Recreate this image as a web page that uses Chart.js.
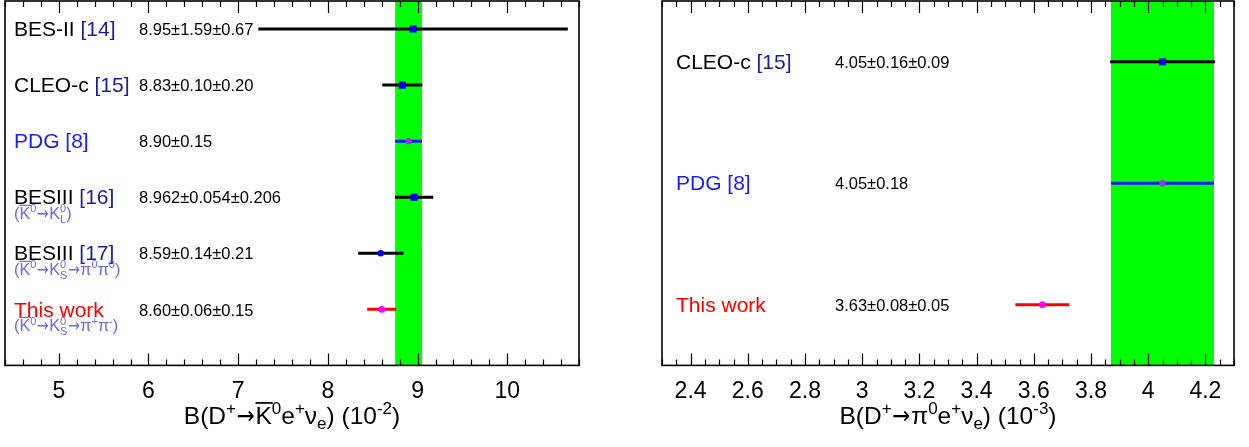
<!DOCTYPE html>
<html>
<head>
<meta charset="utf-8">
<script src="https://cdn.jsdelivr.net/npm/chart.js@4.4.1/dist/chart.umd.min.js"></script>
<style>
  html, body { margin: 0; padding: 0; background: #fff; }
  #wrap { position: relative; width: 1249px; height: 447px; }
  canvas { position: absolute; top: 0; }
  #leftChart { left: 0; }
  #rightChart { left: 620px; }
</style>
</head>
<body>
<div id="wrap">
  <canvas id="leftChart" width="620" height="447"></canvas>
  <canvas id="rightChart" width="629" height="447"></canvas>
</div>
<script>
// D+ -> Kbar0 e+ nu  (10^-2)
var leftNames = ["BES-II", "CLEO-c", "PDG", "BESIII", "BESIII", "This work"];
var leftRefs = ["[14]", "[15]", "[8]", "[16]", "[17]", ""];
var leftNotes = ["", "", "",
  "(#bar{K}^{0}#rightarrowK^{0}_{L})",
  "(#bar{K}^{0}#rightarrowK^{0}_{S}#rightarrowπ^{0}π^{0})",
  "(#bar{K}^{0}#rightarrowK^{0}_{S}#rightarrowπ^{+}π^{-})"];
var leftValues = [8.95, 8.83, 8.90, 8.962, 8.59, 8.60];
var leftStat = [1.59, 0.10, 0.15, 0.054, 0.14, 0.06];
var leftSyst = [0.67, 0.20, 0, 0.206, 0.21, 0.15];
var leftText = ["8.95±1.59±0.67", "8.83±0.10±0.20", "8.90±0.15",
  "8.962±0.054±0.206", "8.59±0.14±0.21", "8.60±0.06±0.15"];
var leftTicks = [5, 6, 7, 8, 9, 10];

// D+ -> pi0 e+ nu  (10^-3)
var rightNames = ["CLEO-c", "PDG", "This work"];
var rightRefs = ["[15]", "[8]", ""];
var rightNotes = ["", "", ""];
var rightValues = [4.05, 4.05, 3.63];
var rightStat = [0.16, 0.18, 0.08];
var rightSyst = [0.09, 0, 0.05];
var rightText = ["4.05±0.16±0.09", "4.05±0.18", "3.63±0.08±0.05"];
var rightTicks = [2.4, 2.6, 2.8, 3, 3.2, 3.4, 3.6, 3.8, 4, 4.2];

var FONT = '"Liberation Sans", Arial, Helvetica, sans-serif';
var ARROW_FONT = '"DejaVu Sans", "Noto Sans", sans-serif';
var NAVY = "#1c1c9e";
var BLUE = "#1a1aff";
var NOTE = "#6a6ae6";
var PURPLE = "#9933ee";

// tiny TLatex-like parser: ^{..} _{..} #bar{..} #rightarrow
function parseLatex(s) {
  var out = [], buf = "", i = 0;
  function flush() { if (buf) { out.push({ t: buf }); buf = ""; } }
  while (i < s.length) {
    var ch = s[i];
    if ((ch === "^" || ch === "_") && s[i + 1] === "{") {
      flush();
      var j = s.indexOf("}", i);
      var prev = out[out.length - 1];
      if (prev && prev.script && prev[ch] === undefined) prev[ch] = s.slice(i + 2, j);
      else { var o = { script: true }; o[ch] = s.slice(i + 2, j); out.push(o); }
      i = j + 1;
    } else if (s.indexOf("#bar{", i) === i) {
      flush();
      var k = s.indexOf("}", i);
      out.push({ t: s.slice(i + 5, k), bar: true });
      i = k + 1;
    } else if (s.indexOf("#rightarrow", i) === i) {
      flush();
      out.push({ t: "→", arrow: true });
      i += 11;
    } else { buf += ch; i++; }
  }
  flush();
  return out;
}

function drawLatex(ctx, s, x, base, size, color, measureOnly) {
  var parts = parseLatex(s);
  var small = Math.round(size * 0.7);
  ctx.fillStyle = color;
  ctx.strokeStyle = color;
  ctx.textAlign = "left";
  ctx.textBaseline = "alphabetic";
  var cx = x;
  parts.forEach(function (p) {
    var w = 0;
    if (p.script) {
      ctx.font = small + "px " + FONT;
      if (p["^"] !== undefined) {
        if (!measureOnly) ctx.fillText(p["^"], cx, base - size * 0.42);
        w = ctx.measureText(p["^"]).width;
      }
      if (p["_"] !== undefined) {
        if (!measureOnly) ctx.fillText(p["_"], cx, base + size * 0.22);
        w = Math.max(w, ctx.measureText(p["_"]).width);
      }
    } else if (p.arrow) {
      // ROOT arrows are long: stretch the glyph to ~0.75 em
      ctx.font = size + "px " + ARROW_FONT;
      var gw = ctx.measureText(p.t).width;
      w = size * 0.8;
      if (!measureOnly) {
        ctx.save();
        ctx.translate(cx + size * 0.03, base);
        ctx.scale((size * 0.74) / gw, 1);
        ctx.fillText(p.t, 0, 0);
        ctx.restore();
      }
    } else {
      ctx.font = size + "px " + FONT;
      w = ctx.measureText(p.t).width;
      if (!measureOnly) {
        ctx.fillText(p.t, cx, base);
        if (p.bar) {
          ctx.lineWidth = Math.max(1, size / 14);
          ctx.beginPath();
          ctx.moveTo(cx, base - size * 0.86);
          ctx.lineTo(cx + w + 1, base - size * 0.86);
          ctx.stroke();
        }
      }
    }
    cx += w;
  });
  return cx;
}

function forestPlugin(cfg) {
  return {
    id: "forest" + cfg.key,
    beforeDatasetsDraw: function (chart) {
      var ctx = chart.ctx, a = chart.chartArea, xs = chart.scales.x;
      var l = xs.getPixelForValue(cfg.band[0]);
      var r = xs.getPixelForValue(cfg.band[1]);
      ctx.save();
      ctx.fillStyle = "#00ff00";
      ctx.fillRect(l, a.top, r - l, a.bottom - a.top);
      ctx.restore();
    },
    afterDraw: function (chart) {
      var ctx = chart.ctx, a = chart.chartArea, xs = chart.scales.x, ys = chart.scales.y;
      ctx.save();
      // inward ticks on top and bottom, ROOT style
      ctx.strokeStyle = "#000";
      ctx.lineWidth = 1.2;
      var k0 = Math.ceil(xs.min / cfg.minor - 1e-6), k1 = Math.floor(xs.max / cfg.minor + 1e-6);
      for (var k = k0; k <= k1; k++) {
        var v = k * cfg.minor;
        var major = cfg.ticks.some(function (t) { return Math.abs(t - v) < 1e-6; });
        var len = major ? 12 : 6;
        var px = Math.round(xs.getPixelForValue(v)) + 0.5;
        ctx.beginPath();
        ctx.moveTo(px, a.bottom); ctx.lineTo(px, a.bottom - len);
        ctx.moveTo(px, a.top); ctx.lineTo(px, a.top + len);
        ctx.stroke();
      }
      // frame
      ctx.lineWidth = 1.6;
      ctx.strokeRect(a.left, a.top, a.right - a.left, a.bottom - a.top);

      // row labels
      cfg.names.forEach(function (name, i) {
        var y = ys.getPixelForValue(i);
        var x0 = a.left + cfg.nameX;
        var end = drawLatex(ctx, name, x0, y + 7.2, 21, cfg.nameColors[i]);
        if (cfg.refs[i]) {
          ctx.font = "21px " + FONT;
          end += ctx.measureText(" ").width;
          drawLatex(ctx, cfg.refs[i], end, y + 7.2, 21, cfg.refColors[i]);
        }
        drawLatex(ctx, cfg.text[i], a.left + cfg.valueX, y + 6.2, 16.5, "#000");
        if (cfg.notes[i]) drawLatex(ctx, cfg.notes[i], x0, y + 22, 16.2, NOTE);
      });

      // axis title
      var w = drawLatex(ctx, cfg.title, 0, 0, 24.5, "#000", true);
      drawLatex(ctx, cfg.title, (a.left + a.right) / 2 - w / 2, 424, 24.5, "#000");
      ctx.restore();
    }
  };
}

function buildDatasets(values, stat, syst, shapes, colors, sizes, barColors) {
  var sets = [{
    data: values.map(function (v, i) { return { x: v, y: i }; }),
    pointStyle: shapes,
    pointRadius: sizes,
    pointBackgroundColor: colors,
    pointBorderColor: colors,
    pointBorderWidth: 0,
    showLine: false
  }];
  values.forEach(function (v, i) {
    var err = Math.sqrt(stat[i] * stat[i] + syst[i] * syst[i]);
    sets.push({
      data: [{ x: v - err, y: i }, { x: v + err, y: i }],
      showLine: true,
      borderColor: barColors[i],
      borderWidth: 3,
      pointRadius: 0,
      fill: false
    });
  });
  return sets;
}

function makeChart(id, cfg) {
  return new Chart(document.getElementById(id), {
    type: "scatter",
    data: { datasets: cfg.datasets },
    options: {
      responsive: false,
      animation: false,
      events: [],
      layout: { padding: cfg.padding, autoPadding: false },
      plugins: { legend: { display: false }, tooltip: { enabled: false } },
      scales: {
        x: {
          type: "linear",
          min: cfg.min,
          max: cfg.max,
          afterBuildTicks: function (scale) {
            scale.ticks = cfg.ticks.map(function (v) { return { value: v }; });
          },
          ticks: {
            color: "#000",
            font: { family: FONT, size: 23 },
            padding: 12,
            maxRotation: 0,
            autoSkip: false,
            callback: function (v) { return String(v); }
          },
          grid: { display: false, drawTicks: false },
          border: { display: false }
        },
        y: {
          type: "linear",
          reverse: true,
          min: -0.5,
          max: cfg.yMax,
          display: false
        }
      }
    },
    plugins: [forestPlugin(cfg)]
  });
}

var leftPdg = 2, rightPdg = 1;

makeChart("leftChart", {
  key: "L",
  names: leftNames, refs: leftRefs, notes: leftNotes, text: leftText, ticks: leftTicks,
  nameColors: ["#000", "#000", BLUE, "#000", "#000", "#ff0000"],
  refColors: [NAVY, NAVY, BLUE, NAVY, NAVY, NAVY],
  band: [leftValues[leftPdg] - leftStat[leftPdg], leftValues[leftPdg] + leftStat[leftPdg]],
  min: 4.4, max: 10.8, minor: 0.2, yMax: 6,
  nameX: 9, valueX: 134,
  padding: { left: 5, right: 41, top: 1, bottom: 30 },
  title: "B(D^{+}#rightarrow#bar{K}^{0}e^{+}ν_{e}) (10^{-2})",
  datasets: buildDatasets(leftValues, leftStat, leftSyst,
    ["rect", "rect", "circle", "rect", "circle", "circle"],
    ["#0000f0", "#0000f0", PURPLE, "#0000f0", "#0000f0", "#ff00ff"],
    [5, 5, 3.2, 5, 3.2, 3.4],
    ["#000", "#000", BLUE, "#000", "#000", "#ff0000"])
});

makeChart("rightChart", {
  key: "R",
  names: rightNames, refs: rightRefs, notes: rightNotes, text: rightText, ticks: rightTicks,
  nameColors: ["#000", BLUE, "#ff0000"],
  refColors: [NAVY, BLUE, NAVY],
  band: [rightValues[rightPdg] - rightStat[rightPdg], rightValues[rightPdg] + rightStat[rightPdg]],
  min: 2.3, max: 4.3, minor: 0.05, yMax: 2.5,
  nameX: 14, valueX: 173,
  padding: { left: 42, right: 15, top: 1, bottom: 30 },
  title: "B(D^{+}#rightarrowπ^{0}e^{+}ν_{e}) (10^{-3})",
  datasets: buildDatasets(rightValues, rightStat, rightSyst,
    ["rect", "circle", "circle"],
    ["#0000f0", PURPLE, "#ff00ff"],
    [5, 3.2, 3.4],
    ["#000", BLUE, "#ff0000"])
});
</script>
</body>
</html>
